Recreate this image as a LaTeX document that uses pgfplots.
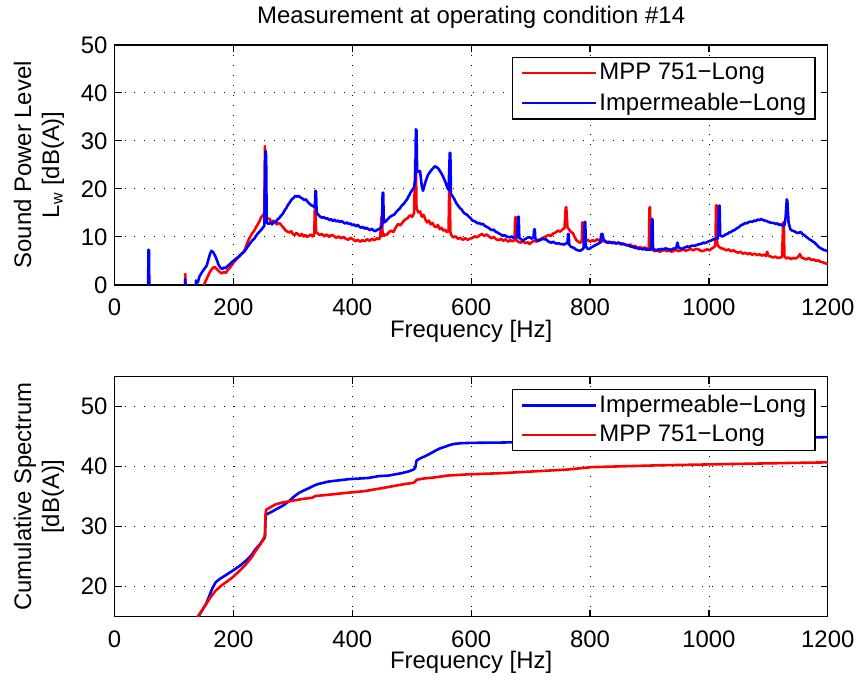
\documentclass[border=0pt]{standalone}
\usepackage{fontspec}
\setmainfont{Liberation Sans}
\usepackage{pgfplots}
\pgfplotsset{compat=1.18}

\definecolor{mred}{rgb}{1,0,0}
\definecolor{mblue}{rgb}{0,0,1}

\pgfplotsset{
  mlab/.style={
    scale only axis,
    width=358pt, height=120.5pt,
    xmin=0, xmax=1200,
    xtick={0,200,...,1200},
    font=\fontsize{12}{14}\selectfont,
    /pgf/number format/assume math mode=true,
    ticklabel style={font=\fontsize{12}{14}\selectfont},
    xticklabel style={yshift=-3.5pt},
    scaled x ticks=false,
    /pgf/number format/1000 sep={},
    grid=major,
    major grid style={black, line width=0.4pt, dash pattern=on 0.5pt off 4.5pt},
    major tick length=3.5pt,
    tick style={black, line width=0.6pt},
    axis line style={line width=0.7pt},
    tick align=inside,
    every axis title shift=0pt,
    legend style={anchor=north east, at={(0.983,0.95)}, draw=black,
      line width=0.6pt, fill=white, font=\fontsize{12}{14}\selectfont,
      inner xsep=4.5pt, inner ysep=2.5pt, row sep=4pt,
      nodes={inner xsep=0pt, inner ysep=0.5pt},
      /tikz/every odd column/.append style={column sep=1pt}},
    legend cell align=left,
    legend image code/.code={\draw[#1, line width=1.3pt] (0pt,0pt) -- (37pt,0pt);},
    xlabel style={at={(axis description cs:0.5,-0.195)}, anchor=center},
    ylabel style={at={(axis description cs:-0.106,0.5)}, anchor=center, align=center},
  },
  sp/.style={line width=1.3pt, line join=round},
}

\begin{document}
\begin{tikzpicture}
\path (-57.5pt,-32.5pt) rectangle (373pt,309.5pt);

% top: spectrum
\begin{axis}[mlab,
  at={(0,166.5pt)}, anchor=south west,
  ymin=0, ymax=50, ytick={0,10,...,50},
  xlabel={Frequency [Hz]},
  ylabel={Sound Power Level\\L\textsubscript{w} [dB(A)]},
  title={Measurement at operating condition \#14},
  title style={at={(axis description cs:0.5,1.113)}, anchor=center, inner sep=0pt},
]
\addplot[sp, mred] coordinates {
(0,-10)(117,-10)(119,2.3)(121,-10)(148,-10)(151,0.2)(154,1.0)(157,1.8)(160,2.6)(163,3.2)
(166,3.6)(169,3.7)(172,3.3)(175,2.9)(178,2.6)(181,2.4)(184,2.7)(187,2.5)(190,3.0)(193,3.4)
(196,3.9)(199,4.5)(202,4.9)(205,5.3)(208,5.7)(211,6.0)(214,6.5)(217,6.8)(220,7.6)(223,8.6)
(226,9.5)(229,10.2)(232,10.8)(235,11.3)(238,12.0)(241,12.6)(244,13.3)(247,14.2)(250,14.5)(252,15.0)
(253,28.9)(254,20)(255,14.2)(258,13.8)(261,13.7)(264,13.0)(267,13.4)(270,13.1)(273,12.6)(276,12.9)
(279,12.7)(282,12.2)(285,11.8)(288,11.3)(291,11.1)(294,10.9)(297,11.2)(300,10.6)(303,10.4)(306,10.8)
(309,10.5)(312,10.2)(315,10.6)(318,10.1)(321,10.4)(324,10.0)(327,10.2)(330,10.5)(333,10.1)(336,10.6)
(337,16)(338,16.2)(339,11)(341,10.8)(345,10.4)(349,10.6)(353,10.1)(357,10.5)(361,10.0)(365,10.4)
(369,10.2)(373,9.8)(377,10.1)(381,9.7)(385,10.0)(389,9.6)(393,9.4)(397,9.8)(401,9.5)(405,9.1)
(409,9.4)(413,9.0)(417,9.3)(421,9.1)(425,9.5)(429,9.2)(433,9.6)(437,9.3)(441,9.7)(445,9.5)
(447,10)(449,14)(450,14.3)(451,10.2)(454,10.5)(458,10.4)(461,10.9)(465,11.3)(469,11.0)(473,11.9)
(477,12.7)(481,12.4)(485,13.1)(489,13.6)(493,13.9)(497,14.5)(501,14.2)(504,15.0)(506,25.8)(507,25.5)
(508,16)(511,15.1)(514,15.3)(517,14.2)(520,14.6)(523,13.6)(526,13.0)(529,13.4)(532,12.6)(535,12.9)
(538,12.2)(541,12.0)(544,12.5)(547,11.6)(550,11.9)(553,11.3)(556,11.5)(559,11.0)(562,11.2)(563,19.5)
(564,19.8)(565,11)(567,10.3)(570,9.9)(574,10.1)(578,9.6)(582,9.8)(586,9.4)(590,9.7)(594,9.4)
(598,9.6)(602,9.8)(606,10.1)(610,9.9)(614,10.3)(618,10.6)(622,10.2)(626,10.5)(630,10.1)(634,9.7)
(638,10.0)(642,9.5)(646,9.3)(650,9.6)(654,9.2)(658,9.5)(662,9.0)(666,9.3)(670,9.1)(673,9.3)
(674,14)(675,14.1)(676,9.3)(679,9.0)(683,8.8)(687,9.1)(691,8.7)(695,8.9)(698,8.5)(702,8.9)
(706,9.2)(710,9.0)(714,9.4)(718,9.6)(722,9.9)(726,10.1)(730,10.4)(734,10.2)(738,10.7)(742,10.9)
(746,11.3)(750,11.1)(754,11.6)(757,11.8)(759,16.0)(760,16.2)(762,12.0)(765,11.5)(768,11.0)(771,10.8)
(774,10.0)(777,9.3)(780,9.0)(783,8.8)(786,9.0)(787,13)(788,13.0)(789,9.2)(792,9.1)(796,9.4)
(800,9.0)(804,9.3)(808,9.1)(812,9.5)(816,9.2)(820,9.0)(824,9.3)(828,8.9)(832,9.0)(836,8.7)
(840,8.9)(844,8.6)(848,8.8)(852,8.4)(856,8.6)(860,8.3)(864,8.2)(868,8.4)(872,8.0)(876,8.1)
(880,7.7)(884,7.9)(888,7.6)(892,7.8)(896,7.5)(899,7.7)(900,16)(901,16.2)(902,7.6)(905,7.3)
(909,7.0)(913,7.2)(917,6.9)(921,7.1)(925,7.3)(929,7.0)(933,7.2)(937,6.9)(941,7.1)(945,7.3)
(949,7.0)(953,7.2)(957,7.4)(961,7.1)(965,7.3)(969,7.5)(973,7.2)(977,7.4)(981,7.5)(985,7.2)
(989,7.0)(993,7.2)(997,7.4)(1001,7.2)(1005,7.6)(1009,7.9)(1011,8.2)(1012,16.4)(1013,16.6)(1014,8.5)
(1017,7.9)(1021,7.6)(1025,7.5)(1029,7.2)(1033,7.4)(1037,7.0)(1041,7.2)(1045,6.9)(1049,6.7)(1053,6.9)
(1057,6.5)(1061,6.7)(1065,6.4)(1069,6.6)(1073,6.3)(1077,6.5)(1081,6.2)(1085,6.4)(1089,6.1)(1093,6.3)
(1096,6.0)(1098,6.9)(1100,6.1)(1104,5.9)(1108,5.7)(1112,5.9)(1116,5.6)(1120,5.7)(1123,5.8)(1125,13.0)
(1126,13.0)(1127,6.0)(1130,5.5)(1134,5.7)(1138,5.4)(1142,5.6)(1146,5.5)(1150,5.8)(1153,6.4)(1156,5.7)
(1160,5.5)(1164,5.3)(1168,5.6)(1172,5.2)(1176,5.3)(1180,5.0)(1184,5.1)(1188,4.8)(1192,4.7)(1196,4.5)
(1200,4.3)
};
\addplot[sp, mblue] coordinates {
(0,-10)(56,-10)(57,7.3)(58,7.3)(59,-10)(118,-10)(119,1.2)(120,-10)(133,-10)(137,0.9)
(140,0.5)(143,1.8)(146,2.4)(149,3.0)(152,3.5)(155,4.0)(158,5.3)(161,6.6)(163,7.1)(166,6.8)
(169,6.1)(172,5.2)(175,4.2)(178,3.6)(181,3.3)(184,3.6)(187,3.5)(190,3.9)(193,4.2)(196,4.6)
(199,4.9)(202,5.2)(205,5.5)(208,5.8)(211,6.2)(214,6.5)(217,6.8)(220,7.2)(223,7.8)(226,8.3)
(229,8.8)(232,9.3)(235,9.6)(238,10.2)(241,10.7)(244,11.1)(247,11.5)(250,12.0)(252,12.3)(254,27.9)
(255,27.0)(256,13)(259,12.7)(262,13.0)(265,12.6)(268,13.2)(271,13.0)(274,13.6)(277,13.9)(280,14.4)
(283,14.8)(286,15.5)(289,16.0)(292,16.7)(295,17.2)(298,17.8)(301,18.1)(304,18.5)(307,18.4)(310,18.5)
(313,18.2)(316,18.0)(319,17.7)(322,17.8)(325,17.3)(328,16.9)(331,16.6)(334,16.4)(337,16.2)(338,19.6)
(339,19.4)(340,15)(343,14.6)(346,14.2)(349,14.0)(352,14.1)(355,13.8)(358,13.9)(361,13.5)(364,13.7)
(367,13.3)(370,13.6)(373,13.2)(376,13.4)(379,13.1)(382,13.3)(385,13.0)(388,12.8)(391,13.0)(394,12.7)
(397,12.8)(400,12.4)(403,12.6)(406,12.2)(409,12.5)(412,12.1)(415,11.9)(418,12.1)(421,11.7)(424,11.9)
(427,11.6)(430,11.4)(433,11.7)(436,11.3)(439,11.2)(442,11.5)(445,11.6)(448,12.0)(450,12.4)(451,19.2)
(452,19.2)(453,13)(456,13.2)(459,13.6)(462,14.0)(465,14.3)(468,14.5)(471,14.7)(474,15.2)(477,15.6)
(480,15.9)(483,16.5)(486,16.8)(489,17.3)(492,17.8)(495,18.5)(498,19.2)(501,19.8)(504,20.3)(506,22)
(507,32.4)(508,32.2)(509,24)(511,23.5)(514,23.7)(517,20.5)(519,19.6)(521,20.5)(524,21.8)(527,22.8)
(530,23.4)(533,23.9)(536,24.3)(539,24.7)(542,24.5)(545,24.2)(548,23.6)(551,23.0)(554,22.2)(557,21.3)
(560,20.2)(562,19.8)(564,27.5)(565,27.4)(566,19)(569,18.4)(572,17.8)(575,17.0)(578,16.5)(581,16.0)
(584,15.7)(587,15.1)(590,14.8)(593,14.6)(596,14.2)(599,13.9)(602,13.4)(605,13.3)(608,13.1)(611,12.8)
(614,12.9)(617,12.6)(620,12.7)(623,12.3)(626,12.1)(629,11.9)(632,11.6)(635,11.4)(638,11.5)(641,11.1)
(644,10.9)(647,10.7)(650,10.5)(653,10.2)(656,10.4)(659,10.1)(662,10.0)(665,9.9)(668,10.1)(671,9.8)
(674,9.9)(677,10.0)(679,14.2)(680,14.2)(681,9.8)(684,9.5)(687,9.2)(690,9.5)(693,9.7)(696,9.9)
(699,9.9)(702,9.6)(705,10.0)(706,11.6)(707,11.6)(708,9.6)(711,9.3)(714,9.2)(717,9.4)(720,9.6)
(723,9.5)(726,9.5)(729,9.1)(732,8.9)(735,8.8)(738,9.0)(741,8.7)(744,8.6)(747,8.7)(750,8.5)
(753,8.5)(756,8.4)(759,8.6)(762,8.7)(763,10.6)(764,10.6)(765,8.4)(768,7.9)(771,7.8)(774,7.6)
(777,7.3)(780,7.2)(783,7.1)(786,7.3)(789,7.6)(791,13.1)(792,13.1)(793,8.0)(796,7.5)(799,7.5)
(802,7.8)(805,8.0)(808,8.2)(811,8.4)(814,8.6)(817,8.8)(819,10.6)(821,10.6)(823,9.3)(826,9.0)
(829,8.8)(832,8.8)(835,8.9)(838,8.7)(841,8.8)(844,8.6)(847,8.8)(850,8.7)(853,8.6)(856,8.5)
(859,8.4)(862,8.3)(865,8.2)(868,8.0)(871,7.9)(874,7.8)(877,7.7)(880,7.6)(883,7.5)(886,7.5)
(889,7.4)(892,7.5)(895,7.3)(898,7.4)(901,7.3)(903,7.5)(904,13.7)(905,13.7)(906,7.6)(909,7.3)
(912,7.2)(915,7.4)(918,7.3)(921,7.5)(924,7.4)(927,7.6)(930,7.5)(933,7.4)(936,7.3)(939,7.5)
(942,7.6)(945,7.7)(947,8.8)(949,7.8)(952,7.6)(955,7.5)(958,7.7)(961,7.9)(964,8.0)(967,7.9)
(970,8.1)(973,8.2)(976,8.1)(979,8.3)(982,8.4)(985,8.5)(988,8.6)(991,8.8)(994,8.7)(997,8.9)
(1000,9.1)(1003,9.2)(1006,9.4)(1009,9.6)(1012,9.5)(1015,9.7)(1017,16.5)(1018,16.5)(1019,10.3)(1022,10.1)
(1025,10.2)(1028,10.5)(1031,10.6)(1034,10.9)(1037,11.0)(1040,11.3)(1043,11.4)(1046,11.7)(1049,11.9)(1052,12.2)
(1055,12.5)(1058,12.6)(1061,12.9)(1064,12.8)(1067,13.1)(1070,13.2)(1073,13.1)(1076,13.4)(1079,13.3)(1082,13.6)
(1085,13.5)(1088,13.7)(1091,13.5)(1094,13.4)(1097,13.3)(1100,13.1)(1103,13.0)(1106,12.9)(1109,12.9)(1112,12.7)
(1115,12.8)(1118,12.5)(1121,12.6)(1124,12.3)(1127,12.4)(1129,14)(1131,17.8)(1132,17.5)(1134,13)(1137,11.6)
(1140,11.3)(1143,11.2)(1146,11.0)(1149,10.8)(1152,10.9)(1155,11.0)(1157,10.6)(1160,10.4)(1163,10.1)(1166,9.8)
(1169,9.5)(1172,9.3)(1175,9.0)(1178,8.8)(1181,8.4)(1184,8.0)(1187,7.7)(1190,7.5)(1193,7.3)(1196,7.2)
(1200,7.0)
};
\legend{MPP 751−Long, Impermeable−Long}
\end{axis}

% bottom: cumulative spectrum
\begin{axis}[mlab,
  at={(0,0)}, anchor=south west,
  ymin=15, ymax=55, ytick={20,30,40,50},
  xlabel={Frequency [Hz]},
  ylabel={Cumulative Spectrum\\{}[dB(A)]},
  xlabel style={at={(axis description cs:0.5,-0.191)}},
]
\addplot[sp, mblue] coordinates {
(136,12)(141,15)(147,16)(154,17.1)(160,18.6)(165,19.8)(170,20.7)(176,21.2)(187,21.9)(198,22.6)
(210,23.4)(221,24.3)(230,25.2)(237,26.2)(245,27.1)(251,27.9)(253,28.2)(254,31.5)(255,32.0)(265,32.5)
(276,33.1)(285,33.6)(293,34.2)(302,35.0)(310,35.6)(318,36.0)(327,36.4)(335,36.8)(343,37.1)(360,37.5)
(377,37.7)(394,37.9)(411,38.0)(427,38.1)(444,38.4)(461,38.5)(483,38.9)(495,39.2)(503,39.5)(506,39.8)
(508,41.0)(515,41.4)(522,41.7)(530,42.1)(539,42.6)(547,43.0)(556,43.3)(564,43.6)(573,43.8)(585,43.9)
(600,43.95)(650,44.0)(700,44.1)(800,44.2)(900,44.3)(1000,44.4)(1017,44.5)(1030,44.6)(1100,44.7)(1130,44.8)
(1200,44.9)
};
\addplot[sp, mred] coordinates {
(135,12)(140,15)(147,16)(154,17.1)(162,18.3)(170,19.3)(180,20.2)(190,20.9)(198,21.5)(210,22.6)
(221,23.7)(230,24.8)(237,25.9)(245,27.0)(251,28.1)(253,28.4)(254,32.0)(255,32.8)(262,33.2)(271,33.7)
(282,34.0)(293,34.2)(305,34.4)(316,34.6)(332,34.8)(336,35.0)(338,35.1)(360,35.3)(388,35.6)(420,35.9)
(444,36.3)(461,36.6)(483,37.0)(503,37.3)(506,37.5)(508,37.8)(520,38.0)(539,38.2)(560,38.5)(595,38.7)
(651,38.9)(706,39.2)(762,39.5)(802,39.9)(913,40.2)(1025,40.4)(1137,40.6)(1200,40.7)
};
\legend{Impermeable−Long, MPP 751−Long}
\end{axis}
\end{tikzpicture}
\end{document}
